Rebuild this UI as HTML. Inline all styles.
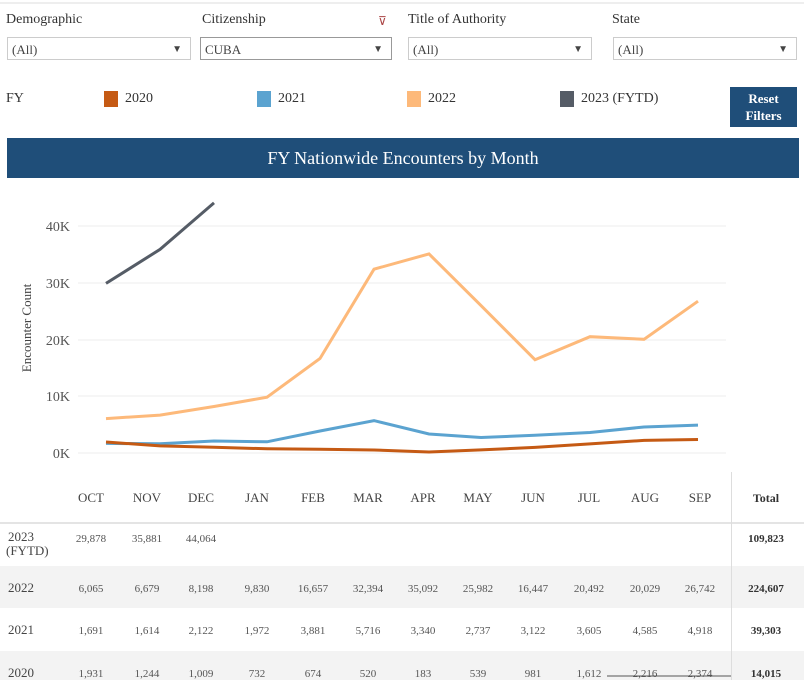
<!DOCTYPE html>
<html><head><style>
body{margin:0;width:804px;height:680px;overflow:hidden;background:#fff;font-family:"Liberation Serif",serif;color:#333;position:relative}
.a{position:absolute;white-space:nowrap}
.dd{position:absolute;top:37px;height:23px;border:1px solid #ccc;font-size:13px;line-height:23px;padding-left:4px;box-sizing:border-box;color:#444}
.dd span{position:absolute;right:8px;font-size:10px}
.lab{font-size:14px;top:12px;color:#333}
.sw{position:absolute;top:91px;width:14px;height:16px}
.lg{font-size:14px;top:91px}
</style></head><body>
<div class="a" style="left:0;top:566px;width:804px;height:42px;background:#f3f3f3"></div>
<div class="a" style="left:0;top:651px;width:804px;height:29px;background:#f3f3f3"></div>
<div class="a" style="left:0;top:522px;width:804px;height:2px;background:#e4e4e4"></div>
<div class="a" style="left:0;top:2px;width:804px;height:2px;background:#eee"></div>
<div class="a lab" style="left:6px">Demographic</div>
<div class="a lab" style="left:202px">Citizenship</div>
<div class="a" style="left:378px;top:14px;font-size:12px;color:#a44">⊽</div>
<div class="a lab" style="left:408px">Title of Authority</div>
<div class="a lab" style="left:612px">State</div>
<div class="dd" style="left:7px;width:184px">(All)<span>▼</span></div>
<div class="dd" style="left:200px;width:192px;border-color:#999">CUBA<span>▼</span></div>
<div class="dd" style="left:408px;width:184px">(All)<span>▼</span></div>
<div class="dd" style="left:613px;width:184px">(All)<span>▼</span></div>
<div class="a lg" style="left:6px">FY</div>
<div class="sw" style="left:104px;background:#c55a14"></div><div class="a lg" style="left:125px">2020</div>
<div class="sw" style="left:257px;background:#5ba3d0"></div><div class="a lg" style="left:278px">2021</div>
<div class="sw" style="left:407px;background:#fdb97a"></div><div class="a lg" style="left:428px">2022</div>
<div class="sw" style="left:560px;background:#555c66"></div><div class="a lg" style="left:581px">2023 (FYTD)</div>
<div class="a" style="left:730px;top:87px;width:67px;height:40px;background:#1f4e79;color:#fff;font-size:13px;font-weight:bold;text-align:center;line-height:17px;padding-top:3px;box-sizing:border-box">Reset<br>Filters</div>
<div class="a" style="left:7px;top:138px;width:792px;height:40px;background:#1f4e79;color:#fff;font-size:18px;text-align:center;line-height:40px">FY Nationwide Encounters by Month</div>
<svg class="a" style="left:0;top:0" width="804" height="680" id="s">
<g stroke="#eee" stroke-width="1">
<line x1="78" x2="726" y1="226" y2="226"/><line x1="78" x2="726" y1="283" y2="283"/><line x1="78" x2="726" y1="340" y2="340"/><line x1="78" x2="726" y1="396" y2="396"/><line x1="78" x2="726" y1="453" y2="453"/>
</g>
<g font-size="14" fill="#555" text-anchor="end" font-family="Liberation Serif">
<text x="70" y="231">40K</text><text x="70" y="288">30K</text><text x="70" y="345">20K</text><text x="70" y="401">10K</text><text x="70" y="458">0K</text>
</g>
<text transform="translate(31,328) rotate(-90)" font-size="13" fill="#444" text-anchor="middle" font-family="Liberation Serif">Encounter Count</text>
<line x1="731.5" x2="731.5" y1="472" y2="680" stroke="#ddd"/>
</svg>
<script>
const X=[91,147,201,257,313,368,423,478,533,589,645,700];
const D={2020:[1931,1244,1009,732,674,520,183,539,981,1612,2216,2374],
2021:[1691,1614,2122,1972,3881,5716,3340,2737,3122,3605,4585,4918],
2022:[6065,6679,8198,9830,16657,32394,35092,25982,16447,20492,20029,26742],
2023:[29878,35881,44064]};
const C={2020:"#c55a14",2021:"#5ba3d0",2022:"#fdb97a",2023:"#555c66"};
const PX=[106,160,214,267,320,374,429,481,535,590,644,698];
let s=document.getElementById('s'),h='';
for(const k of [2022,2021,2020,2023]){h+=`<polyline fill="none" stroke="${C[k]}" stroke-width="3" points="${D[k].map((v,i)=>PX[i]+','+(453-v*0.005675).toFixed(1)).join(' ')}"/>`;}
const M=['OCT','NOV','DEC','JAN','FEB','MAR','APR','MAY','JUN','JUL','AUG','SEP'];
M.forEach((m,i)=>h+=`<text x="${X[i]}" y="502" font-size="13" fill="#444" text-anchor="middle" font-family="Liberation Serif">${m}</text>`);
h+=`<text x="766" y="502" font-size="12" font-weight="bold" fill="#333" text-anchor="middle" font-family="Liberation Serif">Total</text>`;
const R=[[2023,545,'109,823'],[2022,592,'224,607'],[2021,634,'39,303'],[2020,677,'14,015']];
const f=v=>v.toLocaleString('en-US');
for(const [k,y,t] of R){
 if(k==2023){h+=`<text x="8" y="541" font-size="13" fill="#444" font-family="Liberation Serif">2023</text><text x="6" y="555" font-size="13" fill="#444" font-family="Liberation Serif">(FYTD)</text>`;}
 else h+=`<text x="8" y="${y}" font-size="13" fill="#444" font-family="Liberation Serif">${k}</text>`;
 D[k].forEach((v,i)=>h+=`<text x="${X[i]}" y="${k==2023?y-3:y}" font-size="11" fill="#555" text-anchor="middle" font-family="Liberation Serif">${f(v)}</text>`);
 h+=`<text x="766" y="${k==2023?y-3:y}" font-size="11" font-weight="bold" fill="#333" text-anchor="middle" font-family="Liberation Serif">${t}</text>`;
}
h+=`<line x1="607" x2="731" y1="676" y2="676" stroke="#555"/>`;
s.insertAdjacentHTML('beforeend',h);
</script>
</body></html>
